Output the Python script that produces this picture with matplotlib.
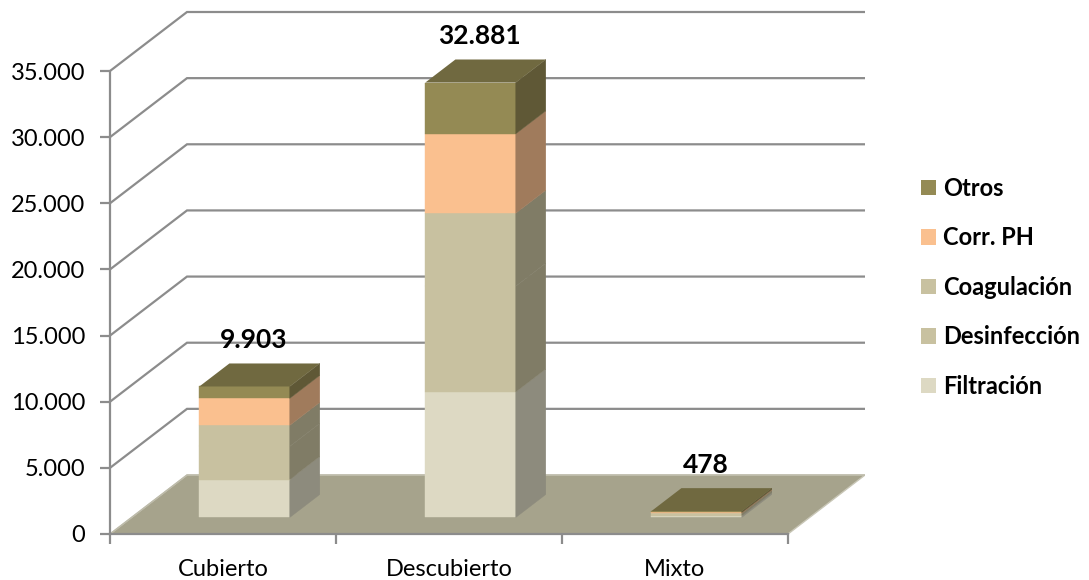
import matplotlib
matplotlib.use("Agg")
import matplotlib.pyplot as plt
from matplotlib.patches import Polygon, Rectangle
from matplotlib.colors import to_rgb
import numpy as np

plt.rcParams['font.family'] = ['Lato', 'DejaVu Sans']

# ---------------- data ----------------
categories = ["Cubierto", "Descubierto", "Mixto"]
series_names = ["Filtración", "Desinfección", "Coagulación", "Corr. PH", "Otros"]
filtracion   = [2870, 9480, 140]
desinfeccion = [2500, 8000, 100]
coagulacion  = [1593, 5520, 80]
corr_ph      = [2040, 6000, 60]
otros        = [900, 3881, 98]
totals       = [9903, 32881, 478]
total_labels = ["9.903", "32.881", "478"]
yticks = [0, 5000, 10000, 15000, 20000, 25000, 30000, 35000]

series_values = [filtracion, desinfeccion, coagulacion, corr_ph, otros]
series_colors = ["#ddd9c3", "#c8c1a0", "#c8c1a0", "#fac08f", "#948a54"]

# ---------------- geometry (pseudo 3D) ----------------
W_PX, H_PX, DPI = 1089, 580, 100
fig = plt.figure(figsize=(W_PX / DPI, H_PX / DPI), dpi=DPI)

x_left_px, x_right_front_px = 110, 788
y_zero_px, y_35k_px = 534, 71
depth_px = (77, 59)
px_per_cat = (x_right_front_px - x_left_px) / 3.0
px_per_val = (y_zero_px - y_35k_px) / 35000.0
DX = depth_px[0] / px_per_cat
DY = depth_px[1] / px_per_val

x_right_back_px = x_left_px + 3 * px_per_cat + depth_px[0]
ax = fig.add_axes([x_left_px / W_PX, (H_PX - y_zero_px) / H_PX,
                   (x_right_back_px - x_left_px) / W_PX, (y_zero_px - 2) / H_PX])
ax.set_xlim(-0.5, 2.5 + DX)
ax.set_ylim(0, (y_zero_px - 2) / px_per_val)

grid_c = "#8c8c8c"

# floor
floor = Polygon([(-0.5, 0), (2.5, 0), (2.5 + DX, DY), (-0.5 + DX, DY)],
                closed=True, facecolor="#a6a38c", edgecolor="#c8c6b6", lw=1.0, zorder=1)
ax.add_patch(floor)

# gridlines (left wall diagonal + back wall)
for v in yticks[1:]:
    ax.plot([-0.5, -0.5 + DX, 2.5 + DX], [v, v + DY, v + DY], color=grid_c, lw=1.6,
            zorder=0.5, solid_joinstyle="miter")
ax.plot([-0.5, -0.5 + DX, 2.5 + DX], [0, DY, DY], color="#bdbbaa", lw=1.0, zorder=1.1)

def shade(c, f):
    r, g, b = to_rgb(c)
    return (r * f, g * f, b * f)

bar_w = 0.40
z0, z1 = 0.28, 0.67
for i, cat in enumerate(categories):
    xl = i - bar_w / 2 + z0 * DX
    xr = xl + bar_w
    ddx = (z1 - z0) * DX
    ddy = (z1 - z0) * DY
    base = z0 * DY
    bottom = 0.0
    for s, (vals, col) in enumerate(zip(series_values, series_colors)):
        h = vals[i]
        yb = base + bottom
        yt = yb + h
        ax.add_patch(Rectangle((xl, yb), bar_w, h, facecolor=col, edgecolor=col, lw=0.3, zorder=3))
        side = shade(col, 0.64)
        ax.add_patch(Polygon([(xr, yb), (xr + ddx, yb + ddy), (xr + ddx, yt + ddy), (xr, yt)],
                             closed=True, facecolor=side, edgecolor=side, lw=0.3, zorder=3))
        bottom += h
    top_col = series_colors[-1]
    yt = base + bottom
    ax.add_patch(Polygon([(xl, yt), (xr, yt), (xr + ddx, yt + ddy), (xl + ddx, yt + ddy)],
                         closed=True, facecolor=shade(top_col, 0.76), edgecolor="none", zorder=3.1))
    ax.text(i + 0.135, totals[i] + 4750, total_labels[i], ha="center", va="center",
            fontsize=19, fontweight="bold", color="black", zorder=5)

# axes / spines
for sp in ["top", "right"]:
    ax.spines[sp].set_visible(False)
ax.spines["left"].set_bounds(0, 35000)
ax.spines["bottom"].set_bounds(-0.5, 2.5)
for sp in ["left", "bottom"]:
    ax.spines[sp].set_color(grid_c)
    ax.spines[sp].set_linewidth(1.6)
    ax.spines[sp].set_zorder(2)

ax.set_yticks(yticks)
ax.set_yticklabels([f"{v:,.0f}".replace(",", ".") for v in yticks])
ax.tick_params(axis="y", direction="out", length=7, width=1.6, color=grid_c,
               labelsize=17, pad=11)
ax.set_xticks(range(len(categories)))
ax.set_xticklabels(categories)
ax.set_xticks([-0.5, 0.5, 1.5, 2.5], minor=True)
ax.tick_params(axis="x", which="major", length=0, labelsize=17, pad=18)
ax.tick_params(axis="x", which="minor", direction="out", length=7, width=1.6, color=grid_c)

# legend
handles = [Rectangle((0, 0), 1, 1, facecolor=c, edgecolor="none") for c in series_colors][::-1]
labels = series_names[::-1]
leg = fig.legend(handles, labels, loc="upper left", bbox_to_anchor=(921 / W_PX, 1 - 177 / H_PX),
                 frameon=False, prop={"size": 17, "weight": "bold"}, handlelength=0.62,
                 handleheight=0.62, handletextpad=0.3, labelspacing=1.12, borderaxespad=0,
                 borderpad=0)

fig.savefig("out.png", dpi=DPI)
